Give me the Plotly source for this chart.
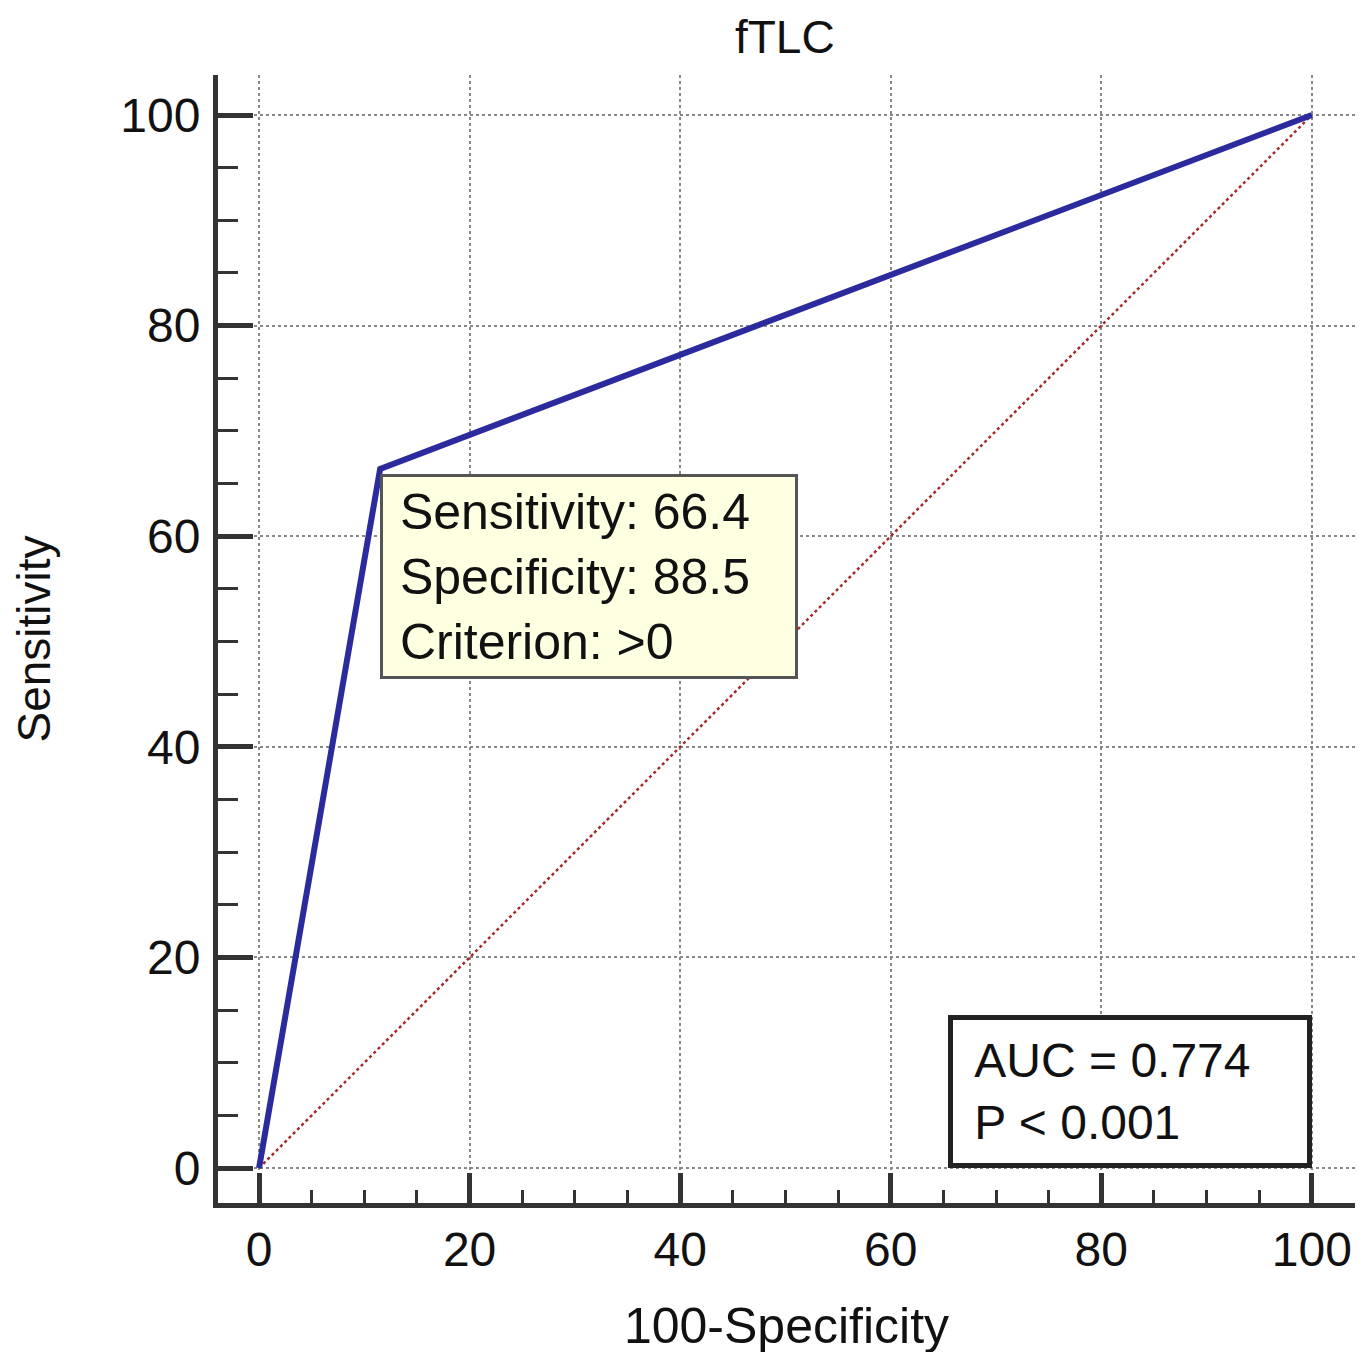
import plotly.graph_objects as go

# ROC data
fpr = [0, 11.5, 100]          # 100-Specificity
tpr = [0, 66.4, 100]          # Sensitivity
ref_x = [0, 100]
ref_y = [0, 100]

title = "fTLC"
x_title = "100-Specificity"
y_title = "Sensitivity"
tick_vals = [0, 20, 40, 60, 80, 100]
tick_text = ["0", "20", "40", "60", "80", "100"]

crit_sens = 66.4
crit_spec = 88.5
criterion = ">0"
auc_text = "AUC = 0.774"
p_text = "P < 0.001"

FONT = "Liberation Sans, Arial, sans-serif"
TXT = "#111111"
AX = "#333333"
NB = "\u00a0"

fig = go.Figure()
fig.add_trace(go.Scatter(x=ref_x, y=ref_y, mode="lines",
                         line=dict(color="#a52a2a", width=2.5, dash="dot"),
                         hoverinfo="skip", showlegend=False))
fig.add_trace(go.Scatter(x=fpr, y=tpr, mode="lines",
                         line=dict(color="#2b2b9e", width=6),
                         showlegend=False))

fig.add_annotation(x=100 - crit_spec, y=crit_sens, xref="x", yref="y",
                   xanchor="left", yanchor="top", showarrow=False, yshift=-5,
                   text=(f"{NB}Sensitivity: {crit_sens}<br>{NB}Specificity: {crit_spec}"
                         f"<br>{NB}Criterion: {criterion}"),
                   align="left", valign="middle",
                   width=406, height=193, borderpad=3,
                   bgcolor="#ffffe1", bordercolor="#555555", borderwidth=3,
                   font=dict(family=FONT, size=50, color=TXT))

fig.add_annotation(x=100, y=0, xref="x", yref="y",
                   xanchor="right", yanchor="bottom", showarrow=False,
                   text=f"{NB}{auc_text}<br>{NB}{p_text}",
                   align="left", valign="middle",
                   width=338, height=127, borderpad=8,
                   bgcolor="white", bordercolor="#222222", borderwidth=5,
                   font=dict(family=FONT, size=48, color=TXT))

fig.update_layout(
    width=1370, height=1352,
    margin=dict(l=210, r=23, t=67, b=157),
    plot_bgcolor="white", paper_bgcolor="white",
    font=dict(family=FONT, size=48, color=TXT),
    title=dict(text=title, x=0.567, xanchor="center", y=0.9786, yanchor="middle",
               font=dict(family=FONT, size=46, color=TXT)),
)

fig.update_xaxes(
    range=[-3.9, 104.1], tickvals=tick_vals, ticktext=tick_text,
    showline=True, linecolor=AX, linewidth=5,
    ticks="inside", ticklen=30, tickwidth=5, tickcolor=AX,
    minor=dict(ticks="inside", ticklen=13, tickwidth=3, tickcolor=AX, dtick=5, showgrid=False),
    showgrid=True, gridcolor="#888888", gridwidth=2, griddash="dot",
    zeroline=False, ticklabelstandoff=0, automargin=False,
    tickfont=dict(family=FONT, size=48, color=TXT),
    title=dict(text=x_title, standoff=35, font=dict(family=FONT, size=50, color=TXT)),
)
fig.update_yaxes(
    range=[-3.32, 103.8], tickvals=tick_vals, ticktext=tick_text,
    showline=True, linecolor=AX, linewidth=5,
    ticks="inside", ticklen=35, tickwidth=5, tickcolor=AX,
    minor=dict(ticks="inside", ticklen=20, tickwidth=3, tickcolor=AX, dtick=5, showgrid=False),
    showgrid=True, gridcolor="#888888", gridwidth=2, griddash="dot",
    zeroline=False, ticklabelstandoff=3, automargin=False,
    tickfont=dict(family=FONT, size=48, color=TXT),
    title=dict(text=y_title, standoff=59, font=dict(family=FONT, size=46, color=TXT)),
)

fig.write_html("out.html")
